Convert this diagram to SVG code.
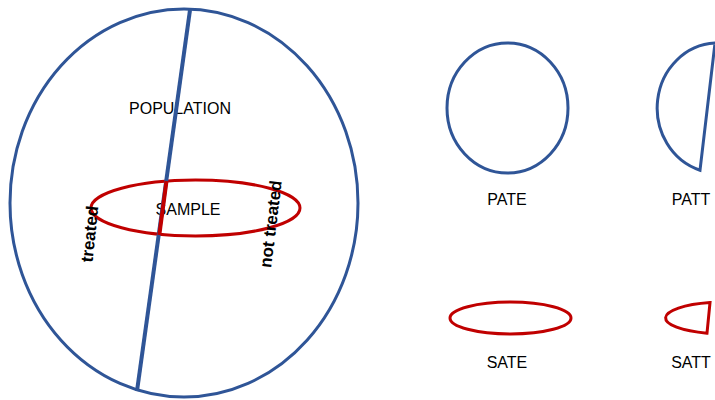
<svg xmlns="http://www.w3.org/2000/svg" width="715" height="400" viewBox="0 0 715 400">
<style>
.pop{fill:none;stroke:#2F5597;stroke-width:3}
.smp{fill:none;stroke:#C00000;stroke-width:3}
.lbl{font-family:"Liberation Sans",Arial,sans-serif;font-size:16px;fill:#000;text-anchor:middle}
.rot{font-family:"Liberation Sans",Arial,sans-serif;font-size:17px;font-weight:bold;fill:#000;text-anchor:middle;dominant-baseline:central}
</style>
<rect width="715" height="400" fill="#fff"/>
<g id="population">
<ellipse class="pop" cx="184" cy="203" rx="174" ry="194"/>
<text class="lbl" x="180" y="114">POPULATION</text>
</g>
<g id="sample">
<ellipse class="smp" cx="195.5" cy="208" rx="104.5" ry="28"/>
<text class="lbl" x="188" y="215">SAMPLE</text>
</g>
<g id="connectors">
<line x1="190" y1="10" x2="137" y2="391" stroke="#2F5597" stroke-width="4"/>
<line x1="166.5" y1="181" x2="159.3" y2="235" stroke="#C00000" stroke-width="4"/>
</g>
<g id="treated">
<text class="rot" transform="translate(90,234) rotate(-84)">treated</text>
</g>
<g id="not-treated">
<text class="rot" transform="translate(271,224) rotate(-83)">not treated</text>
</g>
<g id="pate">
<ellipse class="pop" cx="507.5" cy="108" rx="60.5" ry="65"/>
<text class="lbl" x="507" y="205">PATE</text>
</g>
<g id="patt">
<path class="pop" d="M715,43.1 A60.5,65 0 0 0 700,170.2 Z" stroke-linejoin="miter"/>
<text class="lbl" x="691" y="205">PATT</text>
</g>
<g id="sate">
<ellipse class="smp" cx="510.5" cy="318" rx="60.5" ry="16"/>
<text class="lbl" x="507" y="368">SATE</text>
</g>
<g id="satt">
<path class="smp" d="M710,302.6 A60.5,16 0 0 0 707,333.2 Z"/>
<text class="lbl" x="691" y="368">SATT</text>
</g>
</svg>
